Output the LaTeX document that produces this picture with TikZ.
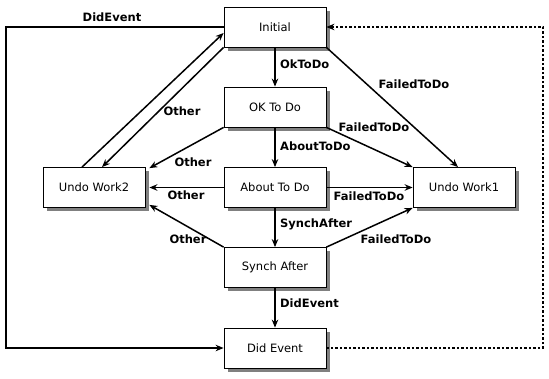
\documentclass[tikz,border=0pt]{standalone}
\usepackage{fontspec}
\setmainfont{DejaVu Sans}
\usetikzlibrary{arrows.meta,shadows}

\tikzset{
    state/.style={draw, fill=white, line width=0.8pt, minimum width=102pt, minimum height=40pt,
        inner sep=0pt, font=\fontsize{11.5}{14}\selectfont,
        drop shadow={shadow xshift=3.5pt, shadow yshift=-3.5pt, fill=gray, opacity=1}},
    lbl/.style={font=\fontsize{11.5}{14}\selectfont\bfseries, inner sep=0pt, text height=8.4pt, text depth=0pt},
    trans/.style={line width=1.5pt, ->},
}

\begin{document}
\begin{tikzpicture}[x=1pt, y=-1pt, >={Stealth[length=8pt,width=6.5pt]}]

    \useasboundingbox (0,0) rectangle (549,378);

    % States
    \node[state] (Initial)  at (275,27)    {Initial};
    \node[state] (OkToDo)   at (275,107)   {OK To Do};
    \node[state] (AboutToDo) at (275,187.5) {About To Do};
    \node[state] (SynchAfter) at (275,267.5) {Synch After};
    \node[state] (DidEvent) at (275,348)   {Did Event};
    \node[state] (UndoTwo)  at (94,187.5)  {Undo Work2};
    \node[state] (UndoOne)  at (464,187.5) {Undo Work1};

    % Main line down the middle
    \draw[trans] (Initial) -- (OkToDo);
    \draw[trans] (OkToDo) -- (AboutToDo);
    \draw[trans] (AboutToDo) -- (SynchAfter);
    \draw[trans] (SynchAfter) -- (DidEvent);

    % Failures go to Undo Work1
    \draw[trans] (Initial.south east) -- ([xshift=-6pt]UndoOne.north);
    \draw[trans] (OkToDo.south east) -- (UndoOne.north west);
    \draw[trans] (AboutToDo.east) -- (UndoOne.west);
    \draw[trans] (SynchAfter.north east) -- (UndoOne.south west);

    % Everything else goes to Undo Work2
    \draw[trans] (Initial.south west) -- ([xshift=8pt]UndoTwo.north);
    \draw[trans] ([xshift=-12pt]UndoTwo.north) -- ([yshift=-6pt]Initial.west);
    \draw[trans] (OkToDo.south west) -- ([xshift=4pt,yshift=-1pt]UndoTwo.north east);
    \draw[trans] (AboutToDo.west) -- ([xshift=4pt]UndoTwo.east);
    \draw[trans] (SynchAfter.north west) -- ([xshift=4pt,yshift=3pt]UndoTwo.south east);

    % Loop back round the outside
    \coordinate (leftrail) at (6,27);
    \coordinate (rightrail) at (543,348);
    \draw[trans] (Initial.west) -- (leftrail) |- (DidEvent.west);
    \draw[trans, dash pattern=on 2.5pt off 2pt] (DidEvent.east) -- (rightrail) |- (Initial.east);

    % Transition labels
    \node[lbl] (lDidEventTop) at (112,17.5) {DidEvent};
    \node[lbl, anchor=west] (lOkToDo) at (280,64.5) {OkToDo};
    \node[lbl, anchor=west] (lAboutToDo) at (280,146) {AboutToDo};
    \node[lbl, anchor=west] (lSynchAfter) at (280,223) {SynchAfter};
    \node[lbl, anchor=west] (lDidEvent) at (280,303) {DidEvent};
    \node[lbl] (lFailedA) at (414,84.5) {FailedToDo};
    \node[lbl] (lFailedB) at (374,127) {FailedToDo};
    \node[lbl] (lFailedC) at (369,196) {FailedToDo};
    \node[lbl] (lFailedD) at (396,239.5) {FailedToDo};
    \node[lbl] (lOtherA) at (182,111) {Other};
    \node[lbl] (lOtherB) at (193,162) {Other};
    \node[lbl] (lOtherC) at (186,195.5) {Other};
    \node[lbl] (lOtherD) at (188,239.5) {Other};

\end{tikzpicture}
\end{document}
